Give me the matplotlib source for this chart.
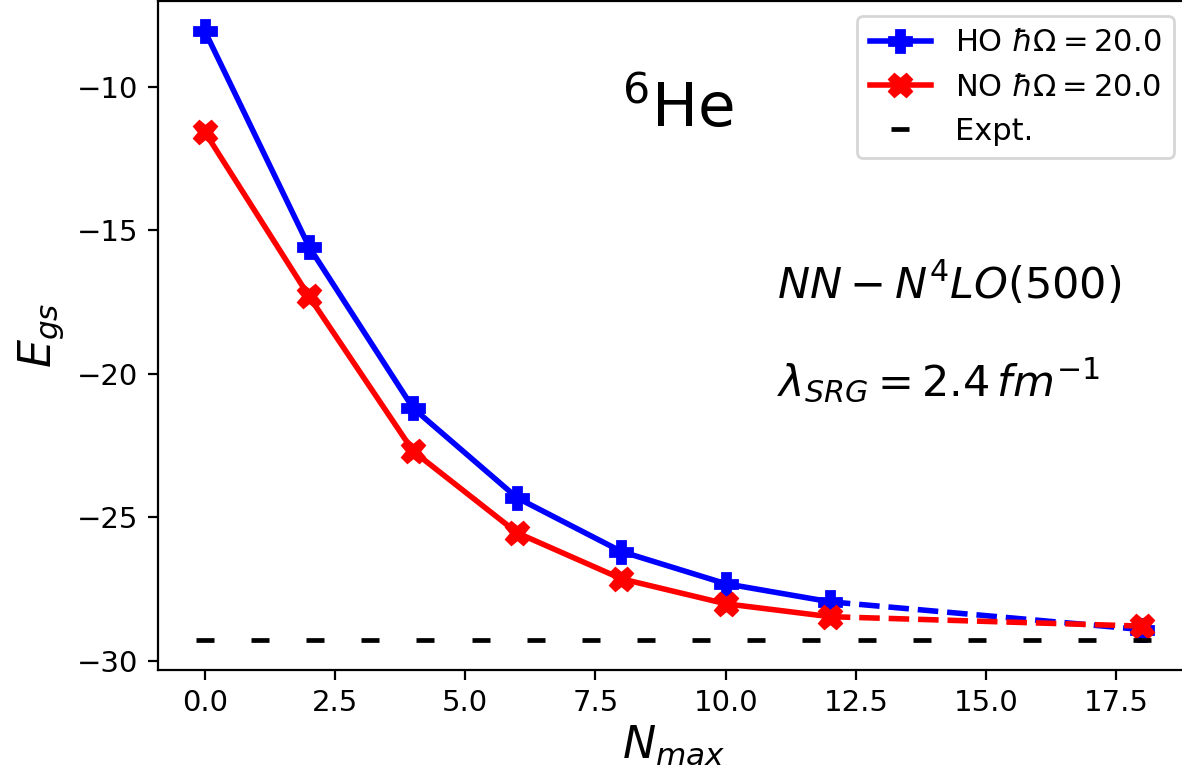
import numpy as np
import matplotlib.pyplot as plt

# N_max values and ground-state energies
nmax = [0, 2, 4, 6, 8, 10, 12]
e_ho = [-8.05, -15.57, -21.2, -24.33, -26.2, -27.32, -27.95]
e_no = [-11.57, -17.3, -22.7, -25.55, -27.15, -28.02, -28.47]
nmax_extrap = [12, 18]
e_ho_extrap = [-27.95, -28.92]
e_no_extrap = [-28.47, -28.8]
expt_energy = -29.27
expt_x = np.linspace(0, 18, 18)

fig, ax = plt.subplots(figsize=(5.91, 3.90), dpi=200)
# right spine falls just outside the saved picture, as in the original
fig.subplots_adjust(left=0.1337, right=1.006, bottom=0.141, top=0.999)

ax.plot(nmax, e_ho, color='blue', lw=2, marker='P', markersize=8, label=r'HO $\hbar\Omega=20.0$')
ax.plot(nmax_extrap, e_ho_extrap, color='blue', lw=2, linestyle='--', marker='P', markersize=8, markevery=[1])
ax.plot(nmax, e_no, color='red', lw=2, marker='X', markersize=8, label=r'NO $\hbar\Omega=20.0$')
ax.plot(nmax_extrap, e_no_extrap, color='red', lw=2, linestyle='--', marker='X', markersize=8, markevery=[1])
ax.plot(expt_x, [expt_energy] * len(expt_x), color='black', linestyle='none',
        marker='_', markersize=6.8, markeredgewidth=1.7, label='Expt.')

ax.text(0.504, 0.836, r'$^{6}$He', transform=ax.transAxes, fontsize=22, ha='center', va='center')
ax.text(0.600, 0.555, r'$NN-N^4LO(500)$', transform=ax.transAxes, fontsize=15.5)
ax.text(0.600, 0.41, r'$\lambda_{SRG}=2.4\,fm^{-1}$', transform=ax.transAxes, fontsize=15.5)

ax.tick_params(labelsize=10.5)
ax.set_xlabel(r'$N_{max}$', fontsize=16, labelpad=2)
ax.set_ylabel(r'$E_{gs}$', fontsize=16)
ax.legend(loc='upper right', fontsize=11)

plt.savefig('out.png', dpi=200)
